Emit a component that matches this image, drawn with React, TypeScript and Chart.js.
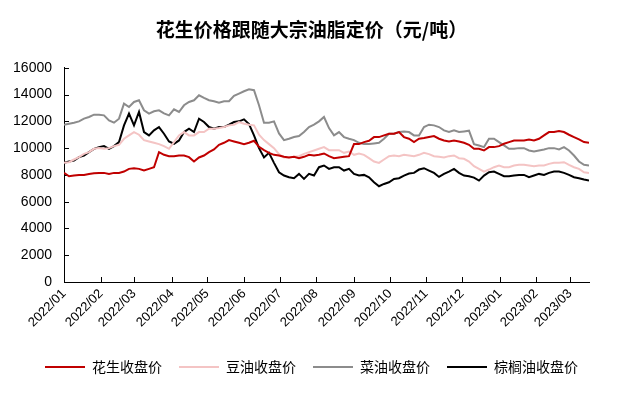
import React, { useEffect, useRef } from "react";
import { Chart, registerables } from "chart.js";

Chart.register(...registerables);

const titleText = "花生价格跟随大宗油脂定价（元/吨）";
const seriesNames = ["花生收盘价", "豆油收盘价", "菜油收盘价", "棕榈油收盘价"];
const seriesColors = ["#C00000", "#F4C4C4", "#8C8C8C", "#000000"];

// month labels and the sample position where each month starts
const monthLabels = [
  "2022/01", "2022/02", "2022/03", "2022/04", "2022/05", "2022/06", "2022/07", "2022/08",
  "2022/09", "2022/10", "2022/11", "2022/12", "2023/01", "2023/02", "2023/03",
];
const monthStarts = [0, 7.4, 14, 21.6, 28.6, 36, 43.2, 50.4, 58, 65.2, 72.4, 79.6, 87.2, 94.4, 101.2];
const lastSample = 105;

const peanut = [
  8150, 7900, 7950, 8000, 8000, 8075, 8125, 8150, 8150, 8075, 8150, 8150, 8250, 8450, 8500, 8450, 8325, 8450, 8575, 9700, 9500,
  9400, 9400, 9450, 9450, 9325, 9000, 9300, 9450, 9700, 9900, 10250, 10400, 10600, 10500, 10400, 10300, 10400, 10550, 10100, 9850, 9650,
  9500, 9450, 9350, 9300, 9350, 9250, 9350, 9500, 9450, 9500, 9600, 9400, 9250, 9300, 9350, 9400, 10300, 10300, 10450, 10550, 10825,
  10825, 10950, 11075, 11075, 11200, 10825, 10700, 10450, 10700, 10750, 10825, 10900, 10700, 10575, 10500, 10575, 10500, 10400, 10250, 9950,
  9950, 9825, 10075, 10075, 10150, 10325, 10450, 10575, 10575, 10575, 10650, 10575, 10700, 10950, 11200, 11200, 11275, 11200, 11000, 10825, 10650, 10450, 10400,
];
const soybeanOil = [
  8900, 8950, 9150, 9325, 9575, 9700, 9950, 10000, 9950, 10000, 10150, 10250, 10700, 10950, 11200, 11000, 10600, 10500, 10400, 10300, 10150,
  9950, 10450, 10950, 11200, 10950, 10950, 11200, 11200, 11450, 11450, 11500, 11575, 11700, 11750, 11950, 11825, 11750, 11700, 11000, 10600, 10300,
  10000, 9550, 9300, 9300, 9350, 9400, 9575, 9700, 9825, 9950, 10075, 9850, 9850, 9850, 9650, 9750, 9500, 9600, 9500, 9250, 9000,
  8900, 9150, 9400, 9450, 9400, 9500, 9450, 9400, 9500, 9650, 9550, 9400, 9350, 9300, 9400, 9450, 9250, 9200, 9000, 8650,
  8450, 8250, 8400, 8575, 8700, 8575, 8575, 8700, 8750, 8750, 8700, 8650, 8700, 8700, 8825, 8900, 8900, 8950, 8750, 8575, 8450, 8200, 8150,
];
const rapeseedOil = [
  11750, 11825, 11900, 12000, 12200, 12325, 12500, 12500, 12450, 12075, 11900, 12200, 13325, 13075, 13450, 13575, 12825, 12575, 12750, 12825, 12600,
  12450, 12900, 12700, 13200, 13450, 13575, 13950, 13750, 13575, 13500, 13400, 13500, 13500, 13900, 14075, 14250, 14400, 14325, 13200, 11900, 11900,
  12000, 11100, 10600, 10700, 10825, 10900, 11200, 11575, 11750, 12000, 12325, 11500, 10950, 11200, 10825, 10700, 10600, 10400, 10300, 10300, 10350,
  10400, 10700, 11075, 11075, 11200, 11250, 11200, 10950, 10950, 11575, 11750, 11700, 11575, 11325, 11200, 11325, 11200, 11250, 11300, 10300,
  10200, 10075, 10700, 10700, 10450, 10200, 9950, 9950, 10000, 10000, 9825, 9750, 9825, 9900, 10000, 10000, 9900, 10075, 9825, 9450, 9000, 8750, 8700,
];
const palmOil = [
  8900, 9000, 9075, 9325, 9450, 9700, 9950, 10075, 10150, 9950, 10150, 10450, 11700, 12575, 11700, 12700, 11200, 10950, 11325, 11575, 11075,
  10500, 10325, 10575, 11200, 11450, 11200, 12200, 11950, 11575, 11450, 11575, 11575, 11750, 11950, 12000, 12150, 11800, 10950, 10000, 9300, 9650,
  8900, 8200, 7950, 7825, 7750, 8075, 7700, 8075, 7950, 8575, 8700, 8450, 8575, 8575, 8325, 8450, 8075, 7950, 8000, 7825, 7450,
  7150, 7325, 7450, 7700, 7750, 7950, 8100, 8150, 8400, 8500, 8325, 8150, 7850, 8075, 8250, 8450, 8150, 7950, 7900, 7800,
  7575, 7950, 8200, 8250, 8075, 7900, 7900, 7950, 8000, 8000, 7825, 7950, 8075, 8000, 8150, 8250, 8250, 8150, 8000, 7825, 7750, 7650, 7575,
];

const yMin = 0;
const yMax = 16000;
const yStep = 2000;

const inwardTicks = {
  id: "inwardTicks",
  beforeDatasetsDraw(chart: any) {
    const { ctx, chartArea } = chart;
    const x = chart.scales.x;
    const y = chart.scales.y;
    ctx.save();
    ctx.strokeStyle = "#000";
    ctx.lineWidth = 1;
    ctx.beginPath();
    x.ticks.forEach((t: any) => {
      const px = Math.round(x.getPixelForValue(t.value)) + 0.5;
      ctx.moveTo(px, chartArea.bottom);
      ctx.lineTo(px, chartArea.bottom - 5);
    });
    y.ticks.forEach((t: any) => {
      const py = Math.round(y.getPixelForValue(t.value)) + 0.5;
      ctx.moveTo(chartArea.left, py);
      ctx.lineTo(chartArea.left + 5, py);
    });
    ctx.stroke();
    ctx.restore();
  },
};

export default function App() {
  const canvasRef = useRef<HTMLCanvasElement | null>(null);

  useEffect(() => {
    if (!canvasRef.current) return;
    const all = [peanut, soybeanOil, rapeseedOil, palmOil];
    const chart = new Chart(canvasRef.current, {
      type: "line",
      data: {
        datasets: all.map((arr, k) => ({
          label: seriesNames[k],
          data: arr.map((v, i) => ({ x: i, y: v })),
          borderColor: seriesColors[k],
          backgroundColor: seriesColors[k],
          borderWidth: 2,
          pointRadius: 0,
          tension: 0,
        })),
      },
      options: {
        animation: false,
        responsive: false,
        devicePixelRatio: 1,
        layout: { padding: { left: 0, right: 0, top: 0, bottom: 11 } },
        plugins: {
          title: {
            display: true,
            text: titleText,
            color: "#000",
            font: { size: 19, weight: "bold", family: "'Noto Sans CJK SC'" },
            padding: { top: 18, bottom: 27 },
          },
          legend: {
            position: "bottom",
            labels: {
              boxWidth: 40,
              boxHeight: 0,
              padding: 17,
              color: "#000",
              font: { size: 14, family: "'Noto Sans CJK SC'" },
            },
          },
          tooltip: { enabled: false },
        },
        scales: {
          x: {
            type: "linear",
            min: 0,
            max: lastSample,
            grid: { display: false, drawTicks: false },
            border: { display: true, color: "#000", width: 1 },
            afterBuildTicks: (scale: any) => {
              scale.ticks = monthStarts.map((v) => ({ value: v }));
            },
            afterFit: (scale: any) => {
              scale.height = 61;
            },
            ticks: {
              autoSkip: false,
              minRotation: 45,
              maxRotation: 45,
              padding: 4,
              color: "#000",
              font: { size: 13, family: "'Liberation Sans'" },
              callback: (_v: any, i: number) => monthLabels[i],
            },
          },
          y: {
            min: yMin,
            max: yMax,
            grid: { display: false, drawTicks: false },
            border: { display: true, color: "#000", width: 1 },
            afterFit: (scale: any) => {
              scale.width = 64;
            },
            ticks: {
              stepSize: yStep,
              padding: 12,
              color: "#000",
              font: { size: 14, family: "'Liberation Sans'" },
              callback: (v: any) => String(v),
            },
          },
          yRight: {
            position: "right",
            min: 0,
            max: 1,
            grid: { display: false, drawTicks: false },
            border: { display: false },
            ticks: { display: false },
            afterFit: (scale: any) => {
              scale.width = 34;
            },
          },
        },
      },
      plugins: [inwardTicks],
    } as any);
    return () => chart.destroy();
  }, []);

  return (
    <div style={{ position: "absolute", left: 0, top: 0, width: 623, height: 395, background: "#fff" }}>
      <canvas ref={canvasRef} width={623} height={395} />
    </div>
  );
}
